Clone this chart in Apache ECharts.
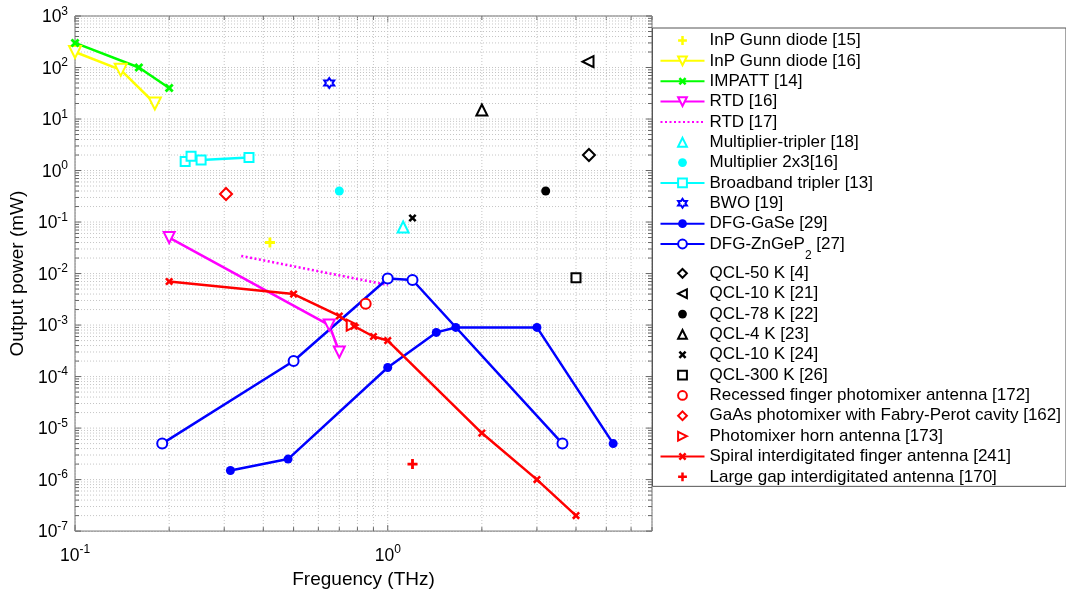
<!DOCTYPE html>
<html>
<head>
<meta charset="utf-8">
<script src="https://cdn.jsdelivr.net/npm/echarts@6/dist/echarts.min.js"></script>
<style>
  html, body { margin: 0; padding: 0; background: #fff; }
  #chart { width: 1066px; height: 594px; }
</style>
</head>
<body>
<div id="chart"></div>
<script>
// data: [frequency THz, power mW]
var gunn15 = [[0.42, 0.04]];
var gunn16 = [[0.1, 200], [0.14, 90], [0.18, 20]];
var impatt = [[0.1, 300], [0.16, 100], [0.2, 40]];
var rtd16 = [[0.2, 0.05], [0.65, 1e-3], [0.7, 3e-4]];
var rtd17 = [[0.34, 0.022], [1.0, 0.006]];
var multTripler = [[1.12, 0.08]];
var mult2x3 = [[0.7, 0.4]];
var broadband = [[0.225, 1.5], [0.235, 1.9], [0.253, 1.6], [0.36, 1.8]];
var bwo = [[0.65, 50]];
var dfgGaSe = [[0.314, 1.5e-6], [0.48, 2.5e-6], [1.0, 1.5e-4], [1.43, 7.2e-4], [1.65, 9e-4], [3.0, 9e-4], [5.26, 5e-6]];
var dfgZnGeP2 = [[0.19, 5e-6], [0.5, 2e-4], [1.0, 8e-3], [1.2, 7.5e-3], [3.62, 5e-6]];
var qcl50 = [[4.4, 2]];
var qcl10a = [[4.37, 130]];
var qcl78 = [[3.2, 0.4]];
var qcl4 = [[2.0, 15]];
var qcl10b = [[1.2, 0.12]];
var qcl300 = [[4.0, 8.3e-3]];
var recessed = [[0.85, 2.6e-3]];
var gaasFP = [[0.304, 0.35]];
var horn = [[0.77, 1e-3]];
var spiral = [[0.2, 7e-3], [0.5, 4e-3], [0.7, 1.5e-3], [0.78, 9.5e-4], [0.9, 6e-4], [1.0, 5e-4], [2, 8e-6], [3, 1e-6], [4, 2e-7]];
var largeGap = [[1.2, 2e-6]];

var names = [
  'InP Gunn diode [15]', 'InP Gunn diode [16]', 'IMPATT [14]', 'RTD [16]', 'RTD [17]',
  'Multiplier-tripler [18]', 'Multiplier 2x3[16]', 'Broadband tripler [13]', 'BWO [19]',
  'DFG-GaSe [29]', 'DFG-ZnGeP2 [27]', 'QCL-50 K [4]', 'QCL-10 K [21]', 'QCL-78 K [22]',
  'QCL-4 K [23]', 'QCL-10 K [24]', 'QCL-300 K [26]', 'Recessed finger photomixer antenna [172]',
  'GaAs photomixer with Fabry-Perot cavity [162]', 'Photomixer horn antenna [173]',
  'Spiral interdigitated finger antenna [241]', 'Large gap interdigitated antenna [170]'
];

// axis limits and tick positions (decade x 1..9)
var xMin = 0.1, xMax = 7;
var yMin = 1e-7, yMax = 1e3;
var xTicks = [], yTicks = [];
[0.1, 1].forEach(function (d) {
  for (var k = 1; k <= 9; k++) if (d * k <= xMax + 1e-9) xTicks.push(d * k);
});
for (var e = -7; e < 3; e++) {
  for (var k = 1; k <= 9; k++) yTicks.push(k * Math.pow(10, e));
}
yTicks.push(1e3);

var FONT = 'Liberation Sans, Arial, sans-serif';
var PLUS = 'path://M-1.7,-6H1.7V-1.7H6V1.7H1.7V6H-1.7V1.7H-6V-1.7H-1.7Z';
function hexagram () {
  var pts = [];
  for (var i = 0; i < 12; i++) {
    var a = Math.PI / 2 + i * Math.PI / 6;
    var r = i % 2 === 0 ? 10 : 5.8;
    pts.push((r * Math.cos(a)).toFixed(2) + ',' + (-r * Math.sin(a)).toFixed(2));
  }
  return 'path://M' + pts.join('L') + 'Z';
}

function isDecade (v) {
  var l = Math.log10(v);
  return Math.abs(l - Math.round(l)) < 1e-6;
}

// every entry is a line series so the legend icon keeps its shape;
// markers-only entries get an invisible line
function mark (name, data, color, symbol, size, hollow, rotate, lineType) {
  var s = {
    name: name,
    type: 'line',
    data: data,
    symbol: symbol,
    symbolSize: size,
    symbolRotate: rotate || 0,
    showSymbol: symbol !== 'none',
    z: 3,
    itemStyle: hollow
      ? { color: '#fff', borderColor: color, borderWidth: 2 }
      : { color: color, borderWidth: 0 },
    lineStyle: { color: color, width: 2.5, type: 'solid' }
  }
  if (!lineType) {
    s.lineStyle = { color: 'rgba(0,0,0,0)', width: 0 }
  } else if (lineType === 'dotted') {
    s.lineStyle.type = [2, 2.5]
    s.itemStyle = { color: 'rgba(0,0,0,0)', opacity: 0 }
  }
  return s
}

// grid lines and inward ticks drawn through the axis scales
function xGrid (params, api) {
  var v = api.value(0);
  var x = api.coord([v, 1])[0];
  var cs = params.coordSys;
  var tl = isDecade(v) ? 6 : 4;
  var bot = cs.y + cs.height;
  return {
    type: 'group',
    children: [
      { type: 'line', shape: { x1: x, y1: cs.y, x2: x, y2: bot }, style: { stroke: '#c4c4c4', lineWidth: 1, lineDash: [1, 2] } },
      { type: 'line', shape: { x1: x, y1: bot, x2: x, y2: bot - tl }, style: { stroke: '#666', lineWidth: 1 } },
      { type: 'line', shape: { x1: x, y1: cs.y, x2: x, y2: cs.y + tl }, style: { stroke: '#666', lineWidth: 1 } }
    ]
  };
}
function yGrid (params, api) {
  var v = api.value(1);
  var y = api.coord([1, v])[1];
  var cs = params.coordSys;
  var tl = isDecade(v) ? 6 : 4;
  var right = cs.x + cs.width;
  return {
    type: 'group',
    children: [
      { type: 'line', shape: { x1: cs.x, y1: y, x2: right, y2: y }, style: { stroke: '#c4c4c4', lineWidth: 1, lineDash: [1, 2] } },
      { type: 'line', shape: { x1: cs.x, y1: y, x2: cs.x + tl, y2: y }, style: { stroke: '#666', lineWidth: 1 } },
      { type: 'line', shape: { x1: right, y1: y, x2: right - tl, y2: y }, style: { stroke: '#666', lineWidth: 1 } }
    ]
  };
}

var powLabel = {
  b: { fontSize: 17.5, fontFamily: FONT, color: '#000', padding: [3, 0, 0, 0] },
  s: { fontSize: 12, fontFamily: FONT, color: '#000', verticalAlign: 'top' }
};
function powFormatter (v) {
  if (!isDecade(v)) return '';
  return '{b|10}{s|' + Math.round(Math.log10(v)) + '}';
}

var myChart = echarts.init(document.getElementById('chart'));
var option = {
  backgroundColor: '#fff',
  animation: false,
  grid: {
    left: 70.7,
    top: 16,
    width: 581.3,
    height: 524.7,
    show: true,
    borderColor: '#666',
    borderWidth: 1,
    backgroundColor: 'transparent'
  },
  xAxis: {
    type: 'log',
    logBase: 10,
    min: xMin,
    max: xMax,
    name: 'Freguency (THz)',
    nameLocation: 'middle',
    nameGap: 31,
    nameTextStyle: { fontSize: 19, fontFamily: FONT, color: '#000', verticalAlign: 'top' },
    axisLine: { show: false },
    axisTick: { show: false },
    splitLine: { show: false },
    axisLabel: { margin: 13, formatter: powFormatter, rich: powLabel, showMaxLabel: false }
  },
  yAxis: {
    type: 'log',
    logBase: 10,
    min: yMin,
    max: yMax,
    interval: 1,
    splitNumber: 10,
    name: 'Output power (mW)',
    nameLocation: 'middle',
    nameGap: 37,
    nameTextStyle: { fontSize: 19, fontFamily: FONT, color: '#000' },
    axisLine: { show: false },
    axisTick: { show: false },
    splitLine: { show: false },
    axisLabel: { margin: 7, interval: 0, formatter: powFormatter, rich: powLabel }
  },
  legend: {
    orient: 'vertical',
    left: 652.5,
    top: 28,
    padding: [4, 5, 1, 7],
    itemWidth: 44,
    itemHeight: 11,
    itemGap: 3.35,
    borderColor: '#555',
    borderWidth: 1,
    backgroundColor: '#fff',
    data: names,
    textStyle: {
      fontSize: 17,
      lineHeight: 17,
      fontFamily: FONT,
      color: '#000',
      rich: { sub: { fontSize: 12, fontFamily: FONT, color: '#000', padding: [23, 0, 0, 0] } }
    },
    formatter: function (n) {
      return n === 'DFG-ZnGeP2 [27]' ? 'DFG-ZnGeP{sub|2} [27]' : n;
    }
  },
  series: [
    { type: 'custom', name: 'xgrid', renderItem: xGrid, data: xTicks.map(function (v) { return [v, 1]; }), z: 1, silent: true, clip: false },
    { type: 'custom', name: 'ygrid', renderItem: yGrid, data: yTicks.map(function (v) { return [1, v]; }), z: 1, silent: true, clip: false },
    mark(names[0], gunn15, '#ffff00', PLUS, 10),
    mark(names[1], gunn16, '#ffff00', 'triangle', 12, true, 180, 'solid'),
    mark(names[2], impatt, '#00ff00', PLUS, 10, false, 45, 'solid'),
    mark(names[3], rtd16, '#ff00ff', 'triangle', 11, true, 180, 'solid'),
    mark(names[4], rtd17, '#ff00ff', 'none', 0, false, 0, 'dotted'),
    mark(names[5], multTripler, '#00ffff', 'triangle', 11, true),
    mark(names[6], mult2x3, '#00ffff', 'circle', 9),
    mark(names[7], broadband, '#00ffff', 'rect', 9, true, 0, 'solid'),
    mark(names[8], bwo, '#0000ff', hexagram(), 10, true),
    mark(names[9], dfgGaSe, '#0000ff', 'circle', 9, false, 0, 'solid'),
    mark(names[10], dfgZnGeP2, '#0000ff', 'circle', 10, true, 0, 'solid'),
    mark(names[11], qcl50, '#000', 'diamond', 12, true),
    mark(names[12], qcl10a, '#000', 'triangle', 11, true, 90),
    mark(names[13], qcl78, '#000', 'circle', 9),
    mark(names[14], qcl4, '#000', 'triangle', 11, true),
    mark(names[15], qcl10b, '#000', PLUS, 9, false, 45),
    mark(names[16], qcl300, '#000', 'rect', 9, true),
    mark(names[17], recessed, '#ff0000', 'circle', 10, true),
    mark(names[18], gaasFP, '#ff0000', 'diamond', 12, true),
    mark(names[19], horn, '#ff0000', 'triangle', 11, true, -90),
    mark(names[20], spiral, '#ff0000', PLUS, 9, false, 45, 'solid'),
    mark(names[21], largeGap, '#ff0000', PLUS, 10)
  ]
};

myChart.setOption(option);
window.onresize = function () {
  myChart.resize();
};
</script>
</body>
</html>
